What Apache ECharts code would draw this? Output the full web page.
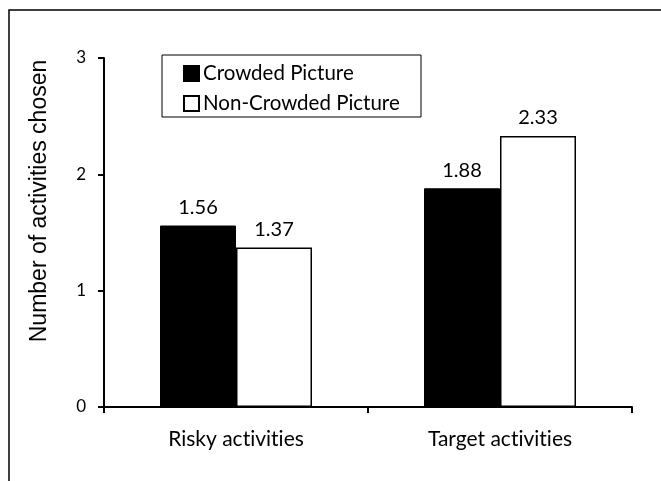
<!DOCTYPE html>
<html>
<head>
<meta charset="utf-8">
<script src="https://cdn.jsdelivr.net/npm/echarts@6/dist/echarts.min.js"></script>
<style>
  html, body { margin: 0; padding: 0; background: #fff; }
  #chart { width: 661px; height: 481px; }
</style>
</head>
<body>
<div id="chart"></div>
<script>
const categories = ['Risky activities', 'Target activities'];
const crowdedValues = [1.56, 1.88];
const nonCrowdedValues = [1.37, 2.33];
const seriesNames = ['Crowded Picture', 'Non-Crowded Picture'];
const yTicks = [0, 1, 2, 3];
const yTitle = 'Number of activities chosen';

const bodyFont = 'Lato, "Open Sans", sans-serif';
const titleFont = '"Liberation Sans", Arial, sans-serif';

// keep "t" and "i" as separate glyphs (Lato would otherwise join them)
const noLigature = s => s.replace(/ti/g, 't\u200Ci');

const chart = echarts.init(document.getElementById('chart'), null, { renderer: 'canvas' });

chart.setOption({
  backgroundColor: '#fff',
  animation: false,
  graphic: [
    // outer frame (only its top and left edges fall inside the canvas)
    {
      type: 'rect', z: 0,
      shape: { x: 9, y: 10, width: 720, height: 540 },
      style: { fill: 'none', stroke: '#000', lineWidth: 1.5 }
    },
    // legend frame
    {
      type: 'rect', z: 0,
      shape: { x: 162, y: 55, width: 259, height: 62 },
      style: { fill: '#fff', stroke: '#000', lineWidth: 1 }
    },
    // rotated y-axis title
    {
      type: 'text', z: 5,
      x: 40, y: 201,
      rotation: Math.PI / 2,
      style: {
        text: yTitle,
        fontFamily: titleFont,
        fontSize: 23,
        fill: '#000',
        align: 'center',
        verticalAlign: 'middle'
      }
    }
  ],
  legend: {
    orient: 'vertical',
    left: 183,
    top: 63,
    itemWidth: 15,
    itemHeight: 15,
    itemGap: 9,
    icon: 'rect',
    padding: 0,
    textStyle: { fontFamily: bodyFont, fontSize: 20.5, lineHeight: 20, color: '#000', padding: [0, 0, 0, -1] },
    data: seriesNames
  },
  grid: { left: 104, right: 29, top: 58, bottom: 74, containLabel: false },
  xAxis: {
    type: 'category',
    data: categories,
    axisLine: { lineStyle: { color: '#000', width: 2 } },
    axisTick: { show: true, length: 6, lineStyle: { color: '#000', width: 2 } },
    axisLabel: {
      color: '#000', fontFamily: bodyFont, fontSize: 21, margin: 22,
      formatter: v => noLigature(v)
    }
  },
  yAxis: {
    type: 'value',
    min: yTicks[0],
    max: yTicks[yTicks.length - 1],
    interval: 1,
    splitLine: { show: false },
    axisLine: { show: true, lineStyle: { color: '#000', width: 2 } },
    axisTick: { show: true, length: 6, lineStyle: { color: '#000', width: 2 } },
    axisLabel: { color: '#000', fontFamily: bodyFont, fontSize: 17, margin: 18 }
  },
  series: [
    {
      name: seriesNames[0],
      type: 'bar',
      data: crowdedValues,
      barWidth: 76,
      barGap: '0%',
      itemStyle: { color: '#000', borderColor: '#000', borderWidth: 1 },
      label: {
        show: true, position: 'top', distance: 8,
        formatter: p => p.value.toFixed(2),
        color: '#000', fontFamily: bodyFont, fontSize: 20
      }
    },
    {
      name: seriesNames[1],
      type: 'bar',
      data: nonCrowdedValues,
      barWidth: 76,
      itemStyle: { color: '#fff', borderColor: '#000', borderWidth: 1.5 },
      label: {
        show: true, position: 'top', distance: 8,
        formatter: p => p.value.toFixed(2),
        color: '#000', fontFamily: bodyFont, fontSize: 20
      }
    }
  ]
});
</script>
</body>
</html>
